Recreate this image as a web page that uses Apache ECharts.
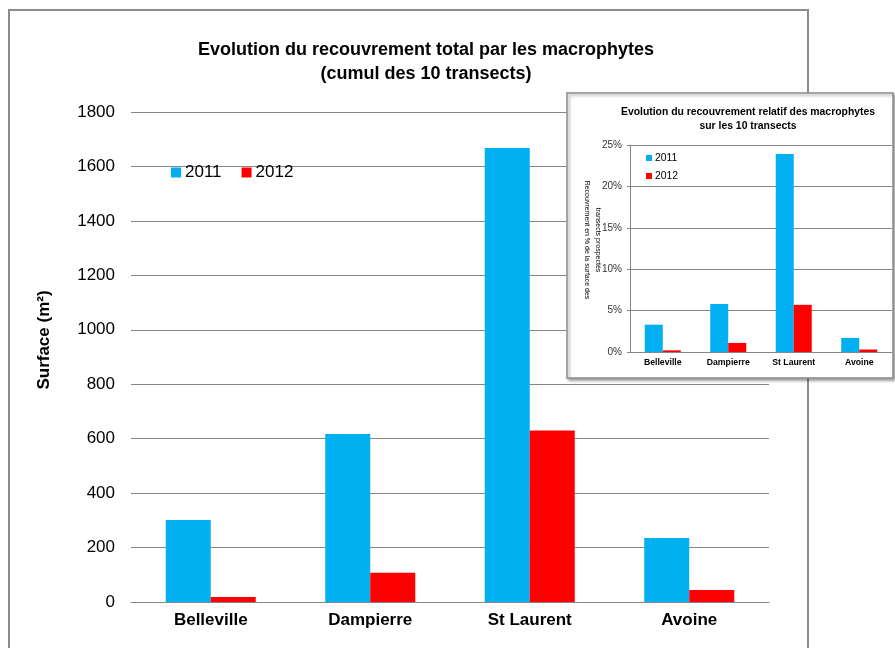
<!DOCTYPE html>
<html>
<head>
<meta charset="utf-8">
<script src="https://cdn.jsdelivr.net/npm/echarts@6/dist/echarts.min.js"></script>
<style>html,body{margin:0;padding:0;background:#fff}#c{width:895px;height:648px}</style>
</head>
<body>
<div id="c"></div>
<script>
const categories = ['Belleville', 'Dampierre', 'St Laurent', 'Avoine'];
const seriesNames = ['2011', '2012'];
const surface2011 = [301, 617, 1668, 235];
const surface2012 = [18, 107, 630, 44];
const relatif2011 = [3.3, 5.8, 23.9, 1.7];
const relatif2012 = [0.2, 1.1, 5.7, 0.3];
const mainTicks = {min: 0, max: 1800, interval: 200};
const insetTicks = {min: 0, max: 25, interval: 5};

const FONT = 'Liberation Sans, Arial, sans-serif';
const BLUE = '#00B0F0', RED = '#FF0000', GRID = '#868686';

const chart = echarts.init(document.getElementById('c'), null, {renderer: 'canvas'});
chart.setOption({
  animation: false,
  backgroundColor: '#fff',
  title: [
    {
      text: 'Evolution du recouvrement total par les macrophytes\n(cumul des 10 transects)',
      left: 421, top: 33, textAlign: 'center',
      textStyle: {fontFamily: FONT, fontSize: 18, fontWeight: 'bold', color: '#000', lineHeight: 24}
    },
    {
      text: 'Evolution du recouvrement relatif des macrophytes\nsur les 10 transects',
      left: 743, top: 100, textAlign: 'center', z: 12,
      textStyle: {fontFamily: FONT, fontSize: 10.4, fontWeight: 'bold', color: '#000', lineHeight: 14}
    }
  ],
  legend: [
    {
      data: seriesNames, orient: 'horizontal', left: 166, top: 159,
      itemWidth: 10, itemHeight: 10, itemGap: 20, icon: 'rect',
      textStyle: {fontFamily: FONT, fontSize: 17, color: '#000', padding: [0, 0, 0, -1]}
    },
    {
      data: seriesNames, orient: 'vertical', left: 641, top: 148, z: 12,
      itemWidth: 6, itemHeight: 6, itemGap: 8, icon: 'rect',
      textStyle: {fontFamily: FONT, fontSize: 10.4, color: '#000', padding: [0, 0, 0, -2]}
    }
  ],
  grid: [
    {left: 131, right: 126, top: 112, bottom: 46},
    {left: 630, right: 3, top: 145, bottom: 296, z: 12}
  ],
  xAxis: [
    {
      type: 'category', gridIndex: 0, data: categories,
      axisLine: {lineStyle: {color: GRID, width: 1}},
      axisTick: {length: 5, lineStyle: {color: GRID}},
      axisLabel: {fontFamily: FONT, fontSize: 17, fontWeight: 'bold', color: '#000', margin: 10}
    },
    {
      type: 'category', gridIndex: 1, data: categories, z: 12,
      axisLine: {lineStyle: {color: GRID, width: 1}},
      axisTick: {length: 3, lineStyle: {color: GRID}},
      axisLabel: {fontFamily: FONT, fontSize: 8.7, fontWeight: 'bold', color: '#000', margin: 6}
    }
  ],
  yAxis: [
    {
      type: 'value', gridIndex: 0, min: mainTicks.min, max: mainTicks.max, interval: mainTicks.interval,
      axisLine: {show: false}, axisTick: {show: false},
      splitLine: {lineStyle: {color: GRID, width: 1}},
      axisLabel: {fontFamily: FONT, fontSize: 17, color: '#000', margin: 16, formatter: v => String(v)}
    },
    {
      type: 'value', gridIndex: 1, min: insetTicks.min, max: insetTicks.max, interval: insetTicks.interval, z: 12,
      axisLine: {show: true, lineStyle: {color: GRID}},
      axisTick: {show: true, length: 3, lineStyle: {color: GRID}},
      splitLine: {lineStyle: {color: GRID, width: 1}},
      axisLabel: {fontFamily: FONT, fontSize: 10, color: '#333', margin: 8, formatter: '{value}%'}
    }
  ],
  series: [
    {name: seriesNames[0], type: 'bar', xAxisIndex: 0, yAxisIndex: 0, data: surface2011,
     barWidth: 45, barGap: '0%', itemStyle: {color: BLUE}},
    {name: seriesNames[1], type: 'bar', xAxisIndex: 0, yAxisIndex: 0, data: surface2012,
     barWidth: 45, barGap: '0%', itemStyle: {color: RED}},
    {name: seriesNames[0], type: 'bar', xAxisIndex: 1, yAxisIndex: 1, data: relatif2011, z: 12,
     barWidth: 18, barGap: '0%', itemStyle: {color: BLUE}},
    {name: seriesNames[1], type: 'bar', xAxisIndex: 1, yAxisIndex: 1, data: relatif2012, z: 12,
     barWidth: 18, barGap: '0%', itemStyle: {color: RED}}
  ],
  graphic: [
    {type: 'rect', z: 0, silent: true, shape: {x: 9, y: 10, width: 799, height: 660},
     style: {fill: 'none', stroke: '#8c8c8c', lineWidth: 2}},
    {type: 'text', z: 1, silent: true, x: 44, y: 340, rotation: Math.PI / 2,
     style: {text: 'Surface (m²)', font: 'bold 17px ' + FONT, fill: '#000', textAlign: 'center', textVerticalAlign: 'middle'}},
    {type: 'rect', z: 10, silent: true, shape: {x: 567, y: 93, width: 326, height: 285},
     style: {fill: '#fff', stroke: '#8c8c8c', lineWidth: 1.5, shadowBlur: 3, shadowOffsetX: 2, shadowOffsetY: 2, shadowColor: 'rgba(0,0,0,0.35)'}},
    {type: 'text', z: 11, silent: true, x: 587, y: 240, rotation: -Math.PI / 2,
     style: {text: 'Recouvrement en % de la surface des', font: '7px ' + FONT, fill: '#000', textAlign: 'center', textVerticalAlign: 'middle'}},
    {type: 'text', z: 11, silent: true, x: 598, y: 240, rotation: -Math.PI / 2,
     style: {text: 'transects prospectés', font: '7px ' + FONT, fill: '#000', textAlign: 'center', textVerticalAlign: 'middle'}}
  ]
});
</script>
</body>
</html>
